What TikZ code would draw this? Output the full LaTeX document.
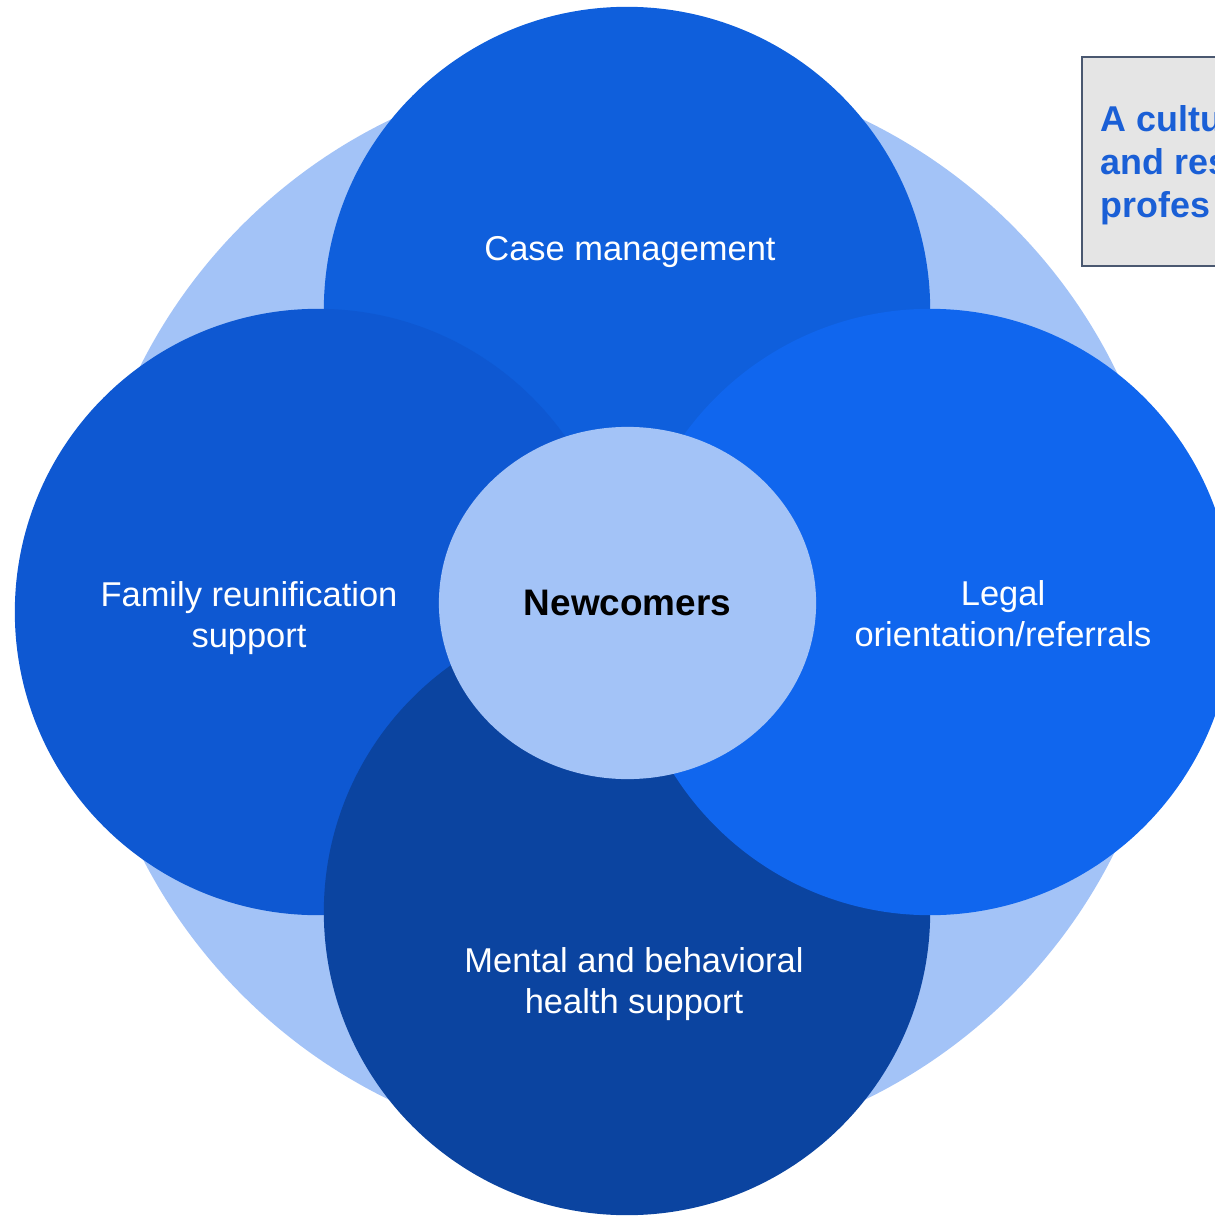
\documentclass[tikz,border=0pt]{standalone}
\usepackage{fontspec}
\setmainfont{Liberation Sans}
\usetikzlibrary{shapes.geometric}
\definecolor{ringfill}{HTML}{A3C3F7}
\definecolor{casefill}{HTML}{0F5FDC}
\definecolor{familyfill}{HTML}{0E58D2}
\definecolor{mentalfill}{HTML}{0B44A0}
\definecolor{legalfill}{HTML}{1066EE}
\definecolor{notefill}{HTML}{E5E5E5}
\definecolor{noteedge}{HTML}{4A5870}
\definecolor{notetext}{HTML}{1A5FD6}
\begin{document}
\begin{tikzpicture}[x=0.01cm,y=-0.01cm,
  petal/.style={circle,minimum size=6.06cm,inner sep=0pt},
  petaltext/.style={text=white,align=center,inner sep=0pt,font=\fontsize{9.8}{11.7}\selectfont}]
\useasboundingbox (0,0) rectangle (1214,1216);
% back ring and the four services
\node[circle,fill=ringfill,minimum size=10.88cm,inner sep=0pt] (ring) at (627,610) {};
\node[petal,fill=casefill] (case) at (627,310) {};
\node[petal,fill=familyfill] (family) at (318,612) {};
\node[petal,fill=mentalfill] (mental) at (627,912) {};
\node[petal,fill=legalfill] (legal) at (930,612) {};
\node[ellipse,fill=ringfill,minimum width=3.77cm,minimum height=3.52cm,inner sep=0pt,
  font=\fontsize{10.5}{12}\selectfont\bfseries] (newcomers) at (627.5,603) {Newcomers};

\node[petaltext] (casetext) at (630,252) {Case management};
\node[petaltext] (familytext) at (249,618) {Family reunification\\support};
\node[petaltext] (legaltext) at (1003,614) {Legal\\orientation/referrals};
\node[petaltext] (mentaltext) at (634,984) {Mental and behavioral\\health support};

% note box, cut by the right edge
\node[draw=noteedge,line width=0.6pt,fill=notefill,anchor=north west,
  minimum width=1.6cm,minimum height=2.09cm,inner sep=0pt] (note) at (1081,56) {};
\node[anchor=north west,inner sep=0pt,align=left,text=notetext,
  font=\fontsize{10.2}{12.2}\selectfont\bfseries] (notetext) at (1100,105) {A cultu\\and res\\profes};
\end{tikzpicture}
\end{document}
